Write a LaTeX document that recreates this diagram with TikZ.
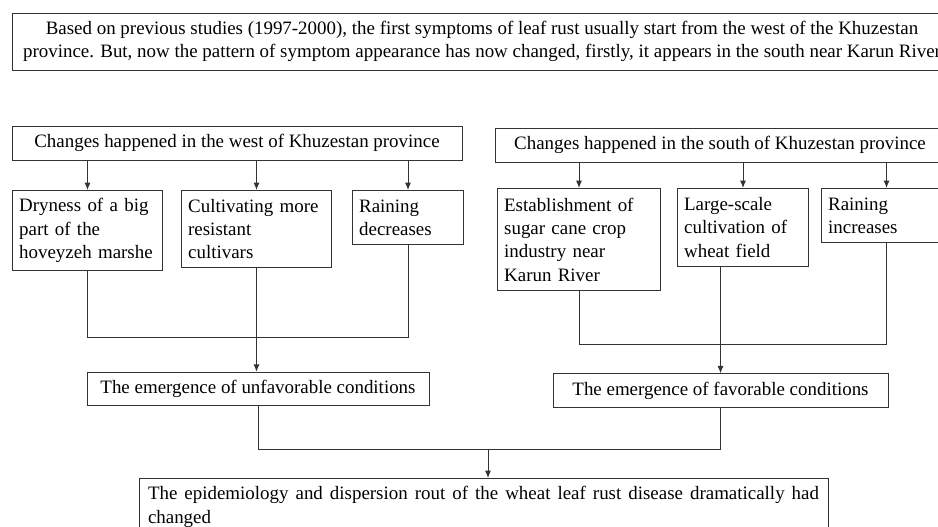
\documentclass[tikz,border=0pt]{standalone}
\usepackage{fontspec}
\setmainfont{Liberation Serif}
\usetikzlibrary{arrows.meta}
\tolerance=10000

\begin{document}
\begin{tikzpicture}[x=0.75pt,y=-0.75pt,
  font=\fontsize{14.2}{17.5}\selectfont,
  box/.style={draw=black!80, line width=0.75pt, inner xsep=5pt, inner ysep=6pt},
  cause/.style={box, anchor=north west, align=left},
  link/.style={black!80, line width=0.75pt},
  arr/.style={link, -{Latex[length=5.5pt,width=4.5pt]}}]
\clip (0,0) rectangle (938,526);

% old and new pattern
\node[box, minimum width=705pt, minimum height=42.75pt, align=center] (T) at (482,41.5)
  {Based on previous studies (1997-2000), the first symptoms of leaf rust usually start from the west of the Khuzestan\\
   province. But, now the pattern of symptom appearance has now changed, firstly, it appears in the south near Karun River};

% west
\node[box, minimum width=337.5pt, minimum height=25.5pt] (W) at (237,143) {Changes happened in the west of Khuzestan province};
\node[cause, text width=102.5pt, minimum height=57.75pt] (W1) at (12,190) {Dryness of a big\\part of the\\hoveyzeh marshe};
\node[cause, text width=102.5pt, minimum height=57.75pt] (W2) at (181,190) {Cultivating more\\resistant\\cultivars};
\node[cause, text width=73.25pt, minimum height=40.5pt] (W3) at (352,190) {Raining\\decreases};
\node[box, minimum width=256.5pt, minimum height=24pt] (U) at (258,389) {The emergence of unfavorable conditions};

% south
\node[box, minimum width=337.5pt, minimum height=25.5pt] (S) at (720,145) {Changes happened in the south of Khuzestan province};
\node[cause, text width=112.25pt, minimum height=76.5pt] (S1) at (497,188) {Establishment of\\sugar cane crop\\industry near\\Karun River};
\node[cause, text width=88.25pt, minimum height=58.5pt] (S2) at (677,188) {Large-scale\\cultivation of\\wheat field};
\node[cause, text width=87.5pt, minimum height=40.5pt] (S3) at (821,188) {Raining\\increases};
\node[box, minimum width=251.25pt, minimum height=23.25pt] (F) at (720.5,390.5) {The emergence of favorable conditions};

% result
\node[box, anchor=north, text width=503.25pt, inner xsep=6.75pt, inner ysep=6pt, align=justify] (B) at (483.5,478)
  {The epidemiology and dispersion rout of the wheat leaf rust disease dramatically had changed};

\coordinate (WJ) at (257,337);
\coordinate (SJ) at (721,344);
\coordinate (BJ) at (488,449);

\draw[arr] (W.south -| W1.north) -- (W1.north);
\draw[arr] (W.south -| W2.north) -- (W2.north);
\draw[arr] (W.south -| W3.north) -- (W3.north);
\draw[link] (W1.south) |- (WJ) -| (W3.south);
\draw[arr] (W2.south) -- (W2.south |- U.north);

\draw[arr] (S.south -| S1.north) -- (S1.north);
\draw[arr] (S.south -| S2.north) -- (S2.north);
\draw[arr] (S.south -| S3.north) -- (S3.north);
\draw[link] (S1.south) |- (SJ) -| (S3.south);
\draw[arr] (S2.south -| F.north) -- (F.north);

\draw[link] (U.south) |- (BJ) -| (F.south);
\draw[arr] (BJ) -- (BJ |- B.north);
\end{tikzpicture}
\end{document}
